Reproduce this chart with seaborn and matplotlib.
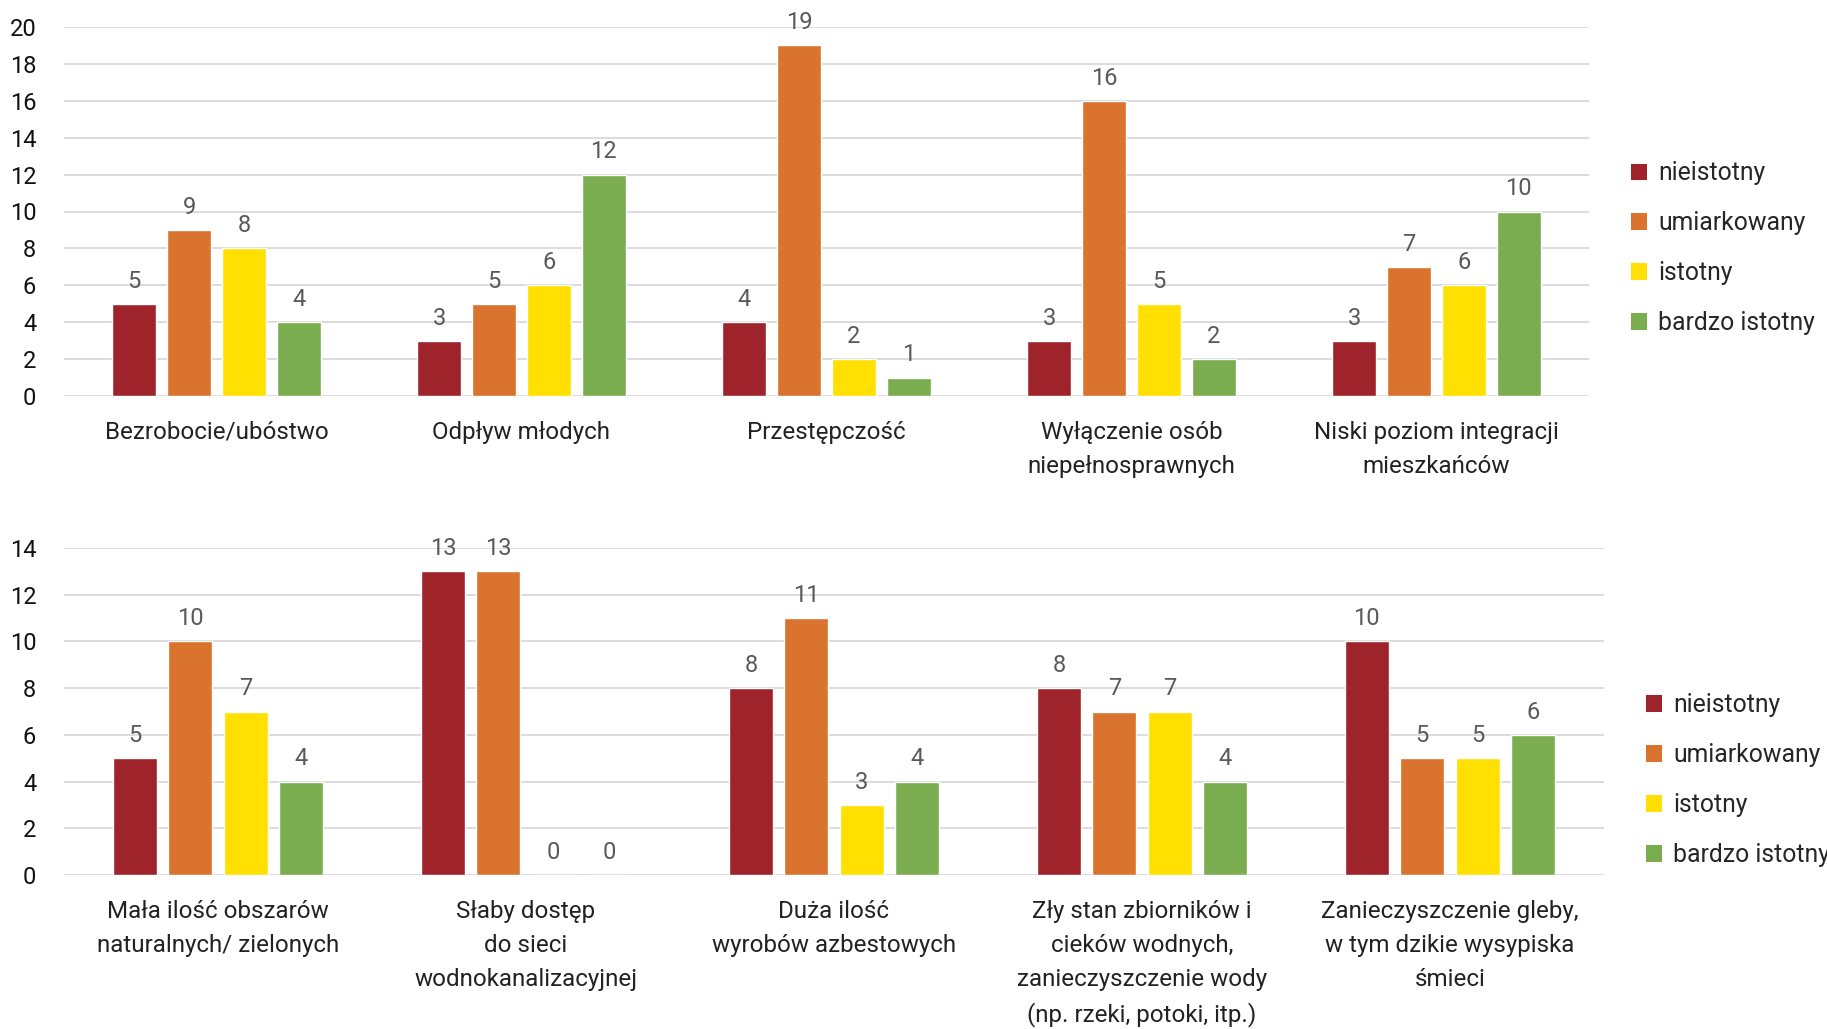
import matplotlib
matplotlib.use("Agg")
import matplotlib.pyplot as plt
import seaborn as sns
import pandas as pd
from matplotlib.patches import Patch

levels = ["nieistotny", "umiarkowany", "istotny", "bardzo istotny"]
colors = ["#9E232B", "#D9732D", "#FFE000", "#7AAC50"]

top_categories = ["Bezrobocie/ubóstwo", "Odpływ młodych", "Przestępczość",
                  "Wyłączenie osób\nniepełnosprawnych",
                  "Niski poziom integracji\nmieszkańców"]
top_nieistotny = [5, 3, 4, 3, 3]
top_umiarkowany = [9, 5, 19, 16, 7]
top_istotny = [8, 6, 2, 5, 6]
top_bardzo = [4, 12, 1, 2, 10]

bot_categories = ["Mała ilość obszarów\nnaturalnych/ zielonych",
                  "Słaby dostęp\ndo sieci\nwodnokanalizacyjnej",
                  "Duża ilość\nwyrobów azbestowych",
                  "Zły stan zbiorników i\ncieków wodnych,\nzanieczyszczenie wody\n(np. rzeki, potoki, itp.)",
                  "Zanieczyszczenie gleby,\nw tym dzikie wysypiska\nśmieci"]
bot_nieistotny = [5, 13, 8, 8, 10]
bot_umiarkowany = [10, 13, 11, 7, 5]
bot_istotny = [7, 0, 3, 7, 5]
bot_bardzo = [4, 0, 4, 4, 6]

top_ticks = list(range(0, 21, 2))
bot_ticks = list(range(0, 15, 2))


def long_df(cats, series):
    rows = []
    for lvl, vals in zip(levels, series):
        for c, v in zip(cats, vals):
            rows.append({"cat": c, "level": lvl, "val": v})
    return pd.DataFrame(rows)


sns.set_theme(style="white")
plt.rcParams["font.family"] = ["Roboto", "DejaVu Sans"]

fig = plt.figure(figsize=(18.27, 10.29), dpi=100)
W, H = 1827, 1029


def make_axes(x0, x1, ytop, ybot):
    return fig.add_axes([x0 / W, 1 - ybot / H, (x1 - x0) / W, (ybot - ytop) / H])


ax1 = make_axes(64, 1589, 27, 396)
ax2 = make_axes(64, 1604, 548, 875)

configs = [
    (ax1, top_categories, [top_nieistotny, top_umiarkowany, top_istotny, top_bardzo], top_ticks, 0.40),
    (ax2, bot_categories, [bot_nieistotny, bot_umiarkowany, bot_istotny, bot_bardzo], bot_ticks, 0.29),
]

for ax, cats, series, ticks, legy in configs:
    df = long_df(cats, series)
    sns.barplot(data=df, x="cat", y="val", hue="level", hue_order=levels,
                order=cats, palette=colors, width=0.72, gap=0.2,
                saturation=1, ax=ax, legend=False)
    for cont in ax.containers:
        ax.bar_label(cont, fmt="%d", padding=8, fontsize=17, color="#595959")
    ax.set_ylim(0, ticks[-1])
    ax.set_yticks(ticks)
    ax.set_xlabel("")
    ax.set_ylabel("")
    ax.yaxis.grid(True, color="#D9D9D9", linewidth=1.3)
    ax.set_axisbelow(True)
    for s in ax.spines.values():
        s.set_visible(False)
    ax.tick_params(axis="y", length=0, pad=20, labelsize=17, labelcolor="#111111")
    ax.tick_params(axis="x", length=0, pad=18, labelsize=17.4, labelcolor="#222222")
    for lab in ax.get_xticklabels():
        lab.set_linespacing(1.6)
    handles = [Patch(facecolor=c, edgecolor="none") for c in colors]
    ax.legend(handles, levels, loc="center left", bbox_to_anchor=(1.021, legy),
              frameon=False, fontsize=17.8, handlelength=0.65, handleheight=0.65,
              handletextpad=0.45, labelspacing=1.05, borderaxespad=0)

fig.savefig("out.png", dpi=100)
